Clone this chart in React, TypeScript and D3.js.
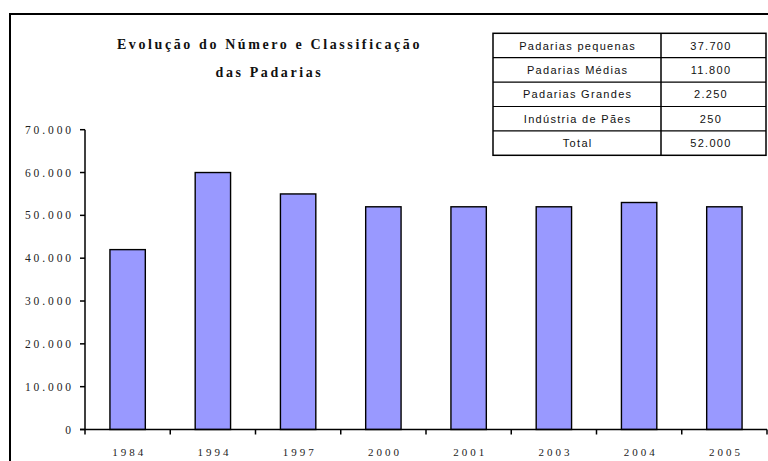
import React from 'react';
import * as d3 from 'd3';

const years = ['1984', '1994', '1997', '2000', '2001', '2003', '2004', '2005'];
const counts = [42000, 60000, 55000, 52000, 52000, 52000, 53000, 52000];
const yTicks = [0, 10000, 20000, 30000, 40000, 50000, 60000, 70000];
const tableLabels = ['Padarias pequenas', 'Padarias Médias', 'Padarias Grandes', 'Indústria de Pães', 'Total'];
const tableValues = ['37.700', '11.800', '2.250', '250', '52.000'];
const titleLines = ['Evolução do Número e Classificação', 'das Padarias'];

const serif = '"Liberation Serif", "Times New Roman", serif';
const sans = '"Liberation Sans", Arial, sans-serif';

const fmt = (v: number) => (v === 0 ? '0' : d3.format(',')(v).replace(/,/g, '.'));

export default function App() {
  const W = 768, H = 461;
  const left = 85, right = 767, top = 129.7, bottom = 429.5;

  const x = d3.scaleBand<string>().domain(years).range([left, right]).padding(0);
  const y = d3.scaleLinear().domain([0, 70000]).range([bottom, top]);
  const bw = x.bandwidth();
  const barW = bw * 0.415;

  const tX0 = 493, tX1 = 661, tX2 = 766, tY0 = 33.3, rowH = 24.4;

  return (
    <svg width={W} height={H} style={{ position: 'absolute', left: 0, top: 0, background: '#fff' }}>
      <rect x={10} y={14} width={800} height={500} fill="#fff" stroke="#000" strokeWidth={2} />

      {titleLines.map((t, i) => (
        <text key={t} x={269.5} y={48.5 + i * 28.5} textAnchor="middle" fontFamily={serif}
          fontWeight="bold" fontSize={14} letterSpacing={2.6} fill="#111">{t}</text>
      ))}

      {years.map((yr, i) => (
        <rect key={yr} x={(x(yr) as number) + (bw - barW) / 2} y={y(counts[i])}
          width={barW} height={bottom - y(counts[i])} fill="#9999ff" stroke="#000" strokeWidth={1.4} />
      ))}

      <line x1={left} x2={left} y1={top} y2={bottom} stroke="#000" strokeWidth={1.5} />
      <line x1={left - 5} x2={right} y1={bottom} y2={bottom} stroke="#000" strokeWidth={1.5} />
      {yTicks.map(t => (
        <g key={t}>
          <line x1={left - 5} x2={left} y1={y(t)} y2={y(t)} stroke="#000" strokeWidth={1.5} />
          <text x={74} y={y(t)} dy="0.35em" textAnchor="end" fontFamily={serif} fontSize={11.5}
            letterSpacing={2.9} fill="#222">{fmt(t)}</text>
        </g>
      ))}
      {years.concat(['end']).map((yr, i) => {
        const px = left + i * bw;
        return <line key={yr} x1={px} x2={px} y1={bottom} y2={bottom + 5} stroke="#000" strokeWidth={1.5} />;
      })}
      {years.map(yr => (
        <text key={yr} x={(x(yr) as number) + bw / 2 + 1.5} y={456} textAnchor="middle" fontFamily={serif}
          fontSize={11} letterSpacing={3} fill="#222">{yr}</text>
      ))}

      <g>
        <rect x={tX0} y={tY0} width={tX2 - tX0} height={rowH * tableLabels.length} fill="#fff" stroke="#000" strokeWidth={1.5} />
        <line x1={tX1} x2={tX1} y1={tY0} y2={tY0 + rowH * tableLabels.length} stroke="#000" strokeWidth={1.5} />
        {tableLabels.map((l, i) => (
          <g key={l}>
            {i > 0 && <line x1={tX0} x2={tX2} y1={tY0 + i * rowH} y2={tY0 + i * rowH} stroke="#000" strokeWidth={1.2} />}
            <text x={(tX0 + tX1) / 2 + 0.7} y={tY0 + i * rowH + rowH / 2 + 4} textAnchor="middle" fontFamily={sans}
              fontSize={11} letterSpacing={1.3} fill="#111">{l}</text>
            <text x={(tX1 + tX2) / 2 - 2.5} y={tY0 + i * rowH + rowH / 2 + 4} textAnchor="middle" fontFamily={sans}
              fontSize={11} letterSpacing={1.3} fill="#111">{tableValues[i]}</text>
          </g>
        ))}
      </g>
    </svg>
  );
}
